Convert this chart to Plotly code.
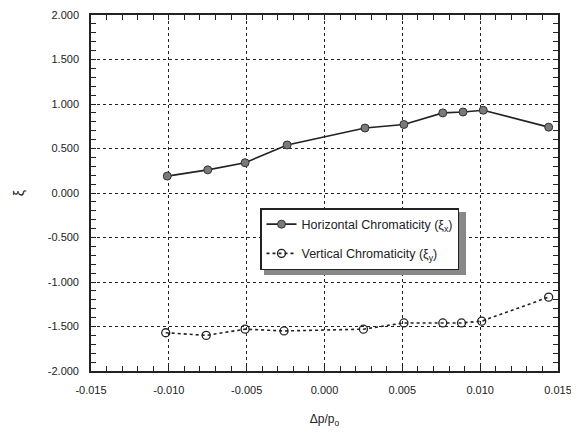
import plotly.graph_objects as go

dp = [-0.0101, -0.0075, -0.0051, -0.0024, 0.0026, 0.0051, 0.0076, 0.0089, 0.0102, 0.0144]
xi_x = [0.19, 0.26, 0.34, 0.54, 0.73, 0.77, 0.90, 0.91, 0.93, 0.74]

dp_v = [-0.0102, -0.0076, -0.0051, -0.0026, 0.0025, 0.0051, 0.0076, 0.0088, 0.0101, 0.0144]
xi_y = [-1.57, -1.60, -1.53, -1.55, -1.53, -1.46, -1.46, -1.46, -1.44, -1.17]

x_ticks = [-0.015, -0.010, -0.005, 0.0, 0.005, 0.010, 0.015]
x_labels = ["-0.015", "-0.010", "-0.005", "0.000", "0.005", "0.010", "0.015"]
y_ticks = [2.0, 1.5, 1.0, 0.5, 0.0, -0.5, -1.0, -1.5, -2.0]
y_labels = ["2.000", "1.500", "1.000", "0.500", "0.000", "-0.500", "-1.000", "-1.500", "-2.000"]

FONT = "Liberation Sans, Arial, sans-serif"
W, H = 579, 433
OFF = 8  # default page body margin
ML, MR, MT, MB = 91 - OFF, 29, 15 - OFF, 70
PW, PH = W - ML - MR, H - MT - MB

fig = go.Figure()
fig.add_trace(go.Scatter(
    x=dp, y=xi_x, mode="lines+markers",
    name="Horizontal Chromaticity (ξ<sub>x</sub>)",
    line=dict(color="#222", width=1.6),
    marker=dict(symbol="circle", size=8, color="#7a7a7a", line=dict(color="#333", width=1)),
    legendgroup="a",
))
fig.add_trace(go.Scatter(
    x=dp_v, y=xi_y, mode="lines+markers",
    name="Vertical Chromaticity (ξ<sub>y</sub>)",
    line=dict(color="#222", width=1.6, dash="dot"),
    marker=dict(symbol="circle-open", size=8, color="#222", line=dict(width=1.3)),
    legendgroup="b",
))

axis_common = dict(
    showline=True, linecolor="#222", linewidth=1.6, mirror="ticks",
    ticks="inside", ticklen=0, tickcolor="#222",
    showgrid=True, gridcolor="#222", gridwidth=1.4, griddash="dot",
    zeroline=False, automargin=False,
    tickfont=dict(family=FONT, size=11, color="#222"),
)

fig.update_xaxes(
    range=[-0.015, 0.015], tickvals=x_ticks, ticktext=x_labels,
    minor=dict(dtick=0.001, ticks="inside", ticklen=5, tickcolor="#222", showgrid=False),
    title=dict(text="Δp/p<sub>o</sub>", font=dict(family=FONT, size=12, color="#222"), standoff=20),
    ticklabelstandoff=8,
    **axis_common,
)
fig.update_yaxes(
    range=[-2.0, 2.0], tickvals=y_ticks, ticktext=y_labels,
    minor=dict(dtick=0.1, ticks="inside", ticklen=5, tickcolor="#222", showgrid=False),
    title=dict(text="ξ", font=dict(family=FONT, size=14, color="#222"), standoff=20),
    ticklabelstandoff=8,
    **axis_common,
)

LX, LY = 260, 208          # legend top-left in page pixels
LW, LH = 206, 67           # shadow extent from legend top-left (px)
lx = (LX - 91) / PW
ly = 1 - (LY - 15) / PH

fig.update_layout(
    width=W, height=H,
    margin=dict(l=ML, r=MR, t=MT, b=MB, autoexpand=False),
    paper_bgcolor="white", plot_bgcolor="white",
    showlegend=True,
    legend=dict(
        x=lx, y=ly, xanchor="left", yanchor="top",
        bgcolor="white", bordercolor="#222", borderwidth=1.5,
        font=dict(family=FONT, size=12.5, color="#222"),
        tracegroupgap=10, itemwidth=30,
    ),
    shapes=[dict(
        type="rect", xref="paper", yref="paper",
        x0=lx + 4 / PW, x1=lx + LW / PW,
        y0=ly - 4 / PH, y1=ly - LH / PH,
        fillcolor="#888", line=dict(width=0), layer="above",
    )],
)

fig.write_html("out.html")
